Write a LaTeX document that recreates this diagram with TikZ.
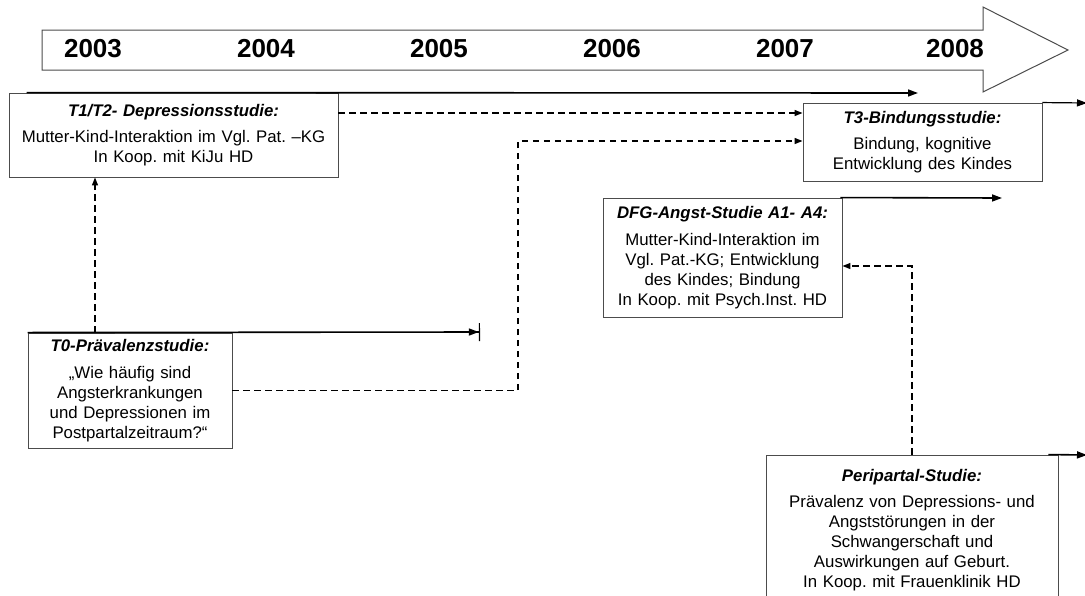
\documentclass[tikz,border=0pt]{standalone}
\usepackage{fontspec}
\setmainfont{Liberation Sans}
\usetikzlibrary{arrows.meta,calc}
\frenchspacing
\newcommand\studytitle[1]{\textbf{\textit{#1}}\\[6.5pt]}
\begin{document}
\begin{tikzpicture}[x=1pt,y=-1pt,
  study/.style={draw=black!70, line width=0.9pt, fill=white, align=center,
    inner sep=2pt, font=\fontsize{16.8}{20}\selectfont},
  run/.style={line width=1.6pt, -{Stealth[length=10pt,width=7pt,inset=0pt]}},
  runbar/.style={line width=1.6pt, -{Stealth[length=10pt,width=7pt,inset=0pt] Bar[width=18pt,line width=1.2pt]}},
  link/.style={line width=1.3pt, dash pattern=on 6.5pt off 4.5pt,
    -{Stealth[length=8pt,width=6pt,inset=0pt]}},
  year/.style={font=\fontsize{26}{30}\selectfont\bfseries},
  timeline/.style={draw=black!70, line width=1pt, fill=white}
]
\useasboundingbox (0,0) rectangle (1085,595);
\clip (0,0) rectangle (1085,595);

% time axis
\draw[timeline] (42,30) -- (983,30) -- (983,7) -- (1068,50) -- (983,92)
  -- (983,70) -- (42,70) -- cycle;
\node[year] (y2003) at (93,49)  {2003};
\node[year] (y2004) at (266,49) {2004};
\node[year] (y2005) at (439,49) {2005};
\node[year] (y2006) at (612,49) {2006};
\node[year] (y2007) at (785,49) {2007};
\node[year] (y2008) at (955,49) {2008};

% studies
\node[study, text width=325pt, minimum height=84pt] (T1) at (173.5,135)
  {\studytitle{T1/T2- Depressionsstudie:}Mutter-Kind-Interaktion im Vgl. Pat. –KG\\In Koop. mit KiJu HD};
\node[study, text width=235pt, minimum height=78pt] (T3) at (922.5,142)
  {\studytitle{T3-Bindungsstudie:}Bindung, kognitive\\Entwicklung des Kindes};
\node[study, text width=235pt, minimum height=119pt] (DFG) at (722.5,257.5)
  {\studytitle{DFG-Angst-Studie A1- A4:}Mutter-Kind-Interaktion im\\Vgl. Pat.-KG; Entwicklung\\des Kindes; Bindung\\In Koop. mit Psych.Inst. HD};
\node[study, text width=200pt, minimum height=115pt] (T0) at (130,390.5)
  {\studytitle{T0-Prävalenzstudie:}„Wie häufig sind\\Angsterkrankungen\\und Depressionen im\\Postpartalzeitraum?“};
\node[study, text width=288pt, minimum height=150pt] (PP) at (912,530)
  {\studytitle{Peripartal-Studie:}Prävalenz von Depressions- und\\Angststörungen in der\\Schwangerschaft und\\Auswirkungen auf Geburt.\\In Koop. mit Frauenklinik HD};

% duration of each study
\coordinate (T1end) at (918,93);
\coordinate (T0end) at (480,332);
\coordinate (DFGend) at (1002,198);
\coordinate (T3end) at (1087,103);
\coordinate (PPend) at (1087,455);
\draw[run] ($(T1.north west)+(18,0)$) -- (T1end);
\draw[runbar] (T0.north west) -- (T0end);
\draw[run] ($(DFG.north east)+(-2,0)$) -- (DFGend);
\draw[run, line width=1.2pt] (T3.north east) -- (T3end);
\draw[run] ($(PP.north east)+(-10,0)$) -- (PPend);

% links between studies
\coordinate (xA) at (95,0);
\coordinate (xB) at (518,0);
\coordinate (yA) at (0,113);
\coordinate (yB) at (0,141);
\coordinate (yC) at (0,266);
\draw[link] (T0.north -| xA) -- (T1.south -| xA);
\draw[link] (T1.east |- yA) -- (T3.west |- yA);
\draw[link] (T0.east) -| (xB |- yB) -- (T3.west |- yB);
\draw[link] (PP.north) |- (DFG.east |- yC);
\end{tikzpicture}
\end{document}
